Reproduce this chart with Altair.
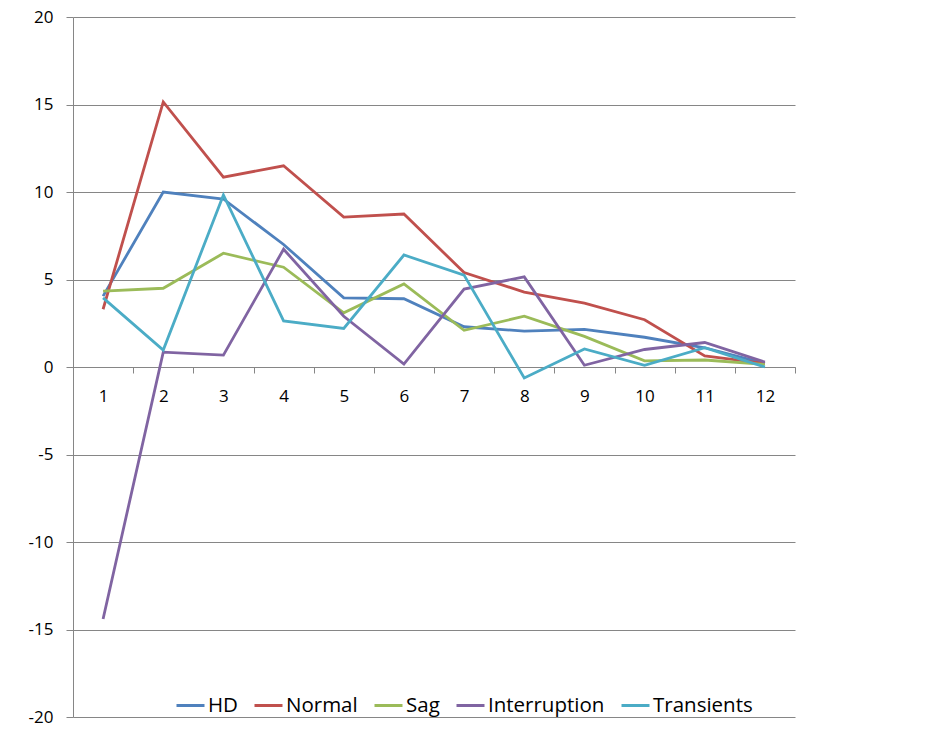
import altair as alt
import pandas as pd

categories = [1, 2, 3, 4, 5, 6, 7, 8, 9, 10, 11, 12]
series_names = ["HD", "Normal", "Sag", "Interruption", "Transients"]
hd = [4.05, 10.0, 9.6, 7.0, 3.95, 3.9, 2.3, 2.05, 2.15, 1.7, 1.1, 0.2]
normal = [3.3, 15.15, 10.85, 11.5, 8.57, 8.74, 5.4, 4.28, 3.65, 2.7, 0.63, 0.2]
sag = [4.34, 4.5, 6.5, 5.7, 3.1, 4.75, 2.1, 2.9, 1.75, 0.35, 0.4, 0.15]
interruption = [-14.4, 0.85, 0.68, 6.73, 2.9, 0.17, 4.45, 5.15, 0.1, 1.0, 1.4, 0.28]
transients = [3.95, 0.97, 9.83, 2.63, 2.2, 6.4, 5.25, -0.63, 1.03, 0.1, 1.1, 0.0]
colors = ["#4F81BD", "#C0504D", "#9BBB59", "#8064A2", "#4BACC6"]
y_ticks = [-20, -15, -10, -5, 0, 5, 10, 15, 20]

rows = []
for name, vals in zip(series_names, [hd, normal, sag, interruption, transients]):
    for c, v in zip(categories, vals):
        rows.append({"cat": c, "value": v, "series": name})
df = pd.DataFrame(rows)

x_values = sorted([c - 0.5 for c in categories] + [c for c in categories] + [categories[-1] + 0.5])

FONT = "Open Sans"
GRID = "#868686"

chart = alt.Chart(df).mark_line(strokeWidth=2.8).encode(
    x=alt.X("cat:Q",
            scale=alt.Scale(domain=[0.5, 12.5], nice=False, zero=False),
            axis=alt.Axis(values=x_values, title=None, grid=False,
                          labelExpr="datum.value % 1 === 0 ? toString(datum.value) : ''",
                          tickOpacity={"condition": {"test": "datum.value % 1 === 0", "value": 0}, "value": 1},
                          tickSize=6, tickColor=GRID, domainColor=GRID,
                          offset=-350, labelPadding=15, labelFlush=False,
                          labelFont=FONT, labelFontSize=17, labelColor="#000000")),
    y=alt.Y("value:Q",
            scale=alt.Scale(domain=[-20, 20], nice=False),
            axis=alt.Axis(values=y_ticks, title=None, grid=True, gridColor=GRID,
                          labelExpr="toString(datum.value)",
                          tickSize=7, tickColor=GRID, domainColor=GRID,
                          labelPadding=13, labelFont=FONT, labelFontSize=17,
                          labelColor="#000000")),
    color=alt.Color("series:N",
                    scale=alt.Scale(domain=series_names, range=colors),
                    legend=alt.Legend(orient="none", legendX=102, legendY=673,
                                      direction="horizontal", title=None,
                                      symbolType="stroke", symbolSize=784,
                                      symbolStrokeWidth=3, labelOffset=2,
                                      columnPadding=10, labelFont=FONT,
                                      labelFontSize=20.5, labelColor="#000000")),
    order=alt.Order("cat:Q"),
).properties(
    width=722, height=700,
    autosize=alt.AutoSizeParams(type="none"),
    padding={"left": 65, "top": 9, "right": 10, "bottom": 10},
    background="#ffffff",
).configure_view(stroke=None)

chart.save("out.html", embed_options={"renderer": "svg", "actions": False})
